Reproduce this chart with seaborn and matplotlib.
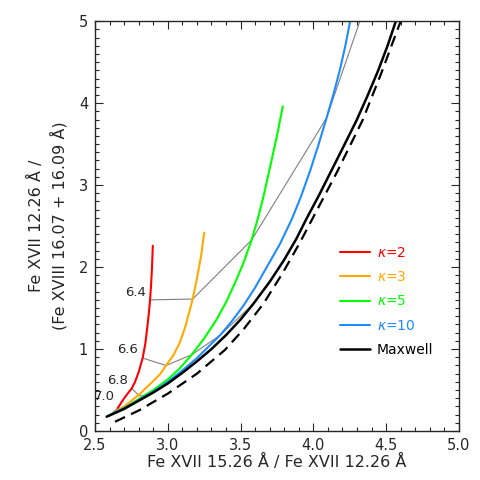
import matplotlib
matplotlib.use("Agg")
import matplotlib.pyplot as plt
import numpy as np
import pandas as pd
import seaborn as sns

# ratio curves (x = 15.26/12.26, y = 12.26/(16.07+16.09))
kappa2_x = [2.656, 2.70, 2.73, 2.752, 2.775, 2.80, 2.827, 2.845, 2.86, 2.870, 2.878, 2.885, 2.891, 2.897]
kappa2_y = [0.28, 0.40, 0.47, 0.52, 0.60, 0.72, 0.89, 1.06, 1.28, 1.44, 1.60, 1.78, 1.98, 2.26]

kappa3_x = [2.60, 2.70, 2.80, 2.90, 2.95, 2.988, 3.04, 3.08, 3.12, 3.171, 3.20, 3.23, 3.25]
kappa3_y = [0.19, 0.30, 0.44, 0.61, 0.70, 0.80, 0.93, 1.07, 1.27, 1.61, 1.86, 2.15, 2.42]

kappa5_x = [2.585, 2.70, 2.80, 2.90, 3.00, 3.08, 3.164, 3.25, 3.335, 3.40, 3.46, 3.52,
            3.576, 3.62, 3.66, 3.70, 3.75, 3.79]
kappa5_y = [0.18, 0.28, 0.39, 0.50, 0.63, 0.76, 0.93, 1.13, 1.36, 1.57, 1.80, 2.05,
            2.33, 2.60, 2.88, 3.20, 3.60, 3.96]

kappa10_x = [2.583, 2.70, 2.80, 2.90, 3.00, 3.10, 3.20, 3.28, 3.36, 3.44, 3.52, 3.60, 3.68,
             3.77, 3.851, 3.915, 3.977, 4.035, 4.091, 4.14, 4.183, 4.22, 4.253]
kappa10_y = [0.178, 0.28, 0.38, 0.48, 0.60, 0.74, 0.89, 1.03, 1.17, 1.34, 1.53, 1.75, 2.00,
             2.28, 2.58, 2.86, 3.17, 3.49, 3.82, 4.12, 4.41, 4.70, 5.00]

maxwell_x = [2.58, 2.70, 2.80, 2.90, 3.00, 3.10, 3.20, 3.30, 3.40, 3.50, 3.587, 3.70, 3.80,
             3.885, 3.95, 4.04, 4.125, 4.21, 4.297, 4.37, 4.446, 4.51, 4.567]
maxwell_y = [0.175, 0.27, 0.37, 0.47, 0.58, 0.71, 0.85, 1.00, 1.17, 1.36, 1.55, 1.82, 2.09,
             2.35, 2.58, 2.88, 3.18, 3.48, 3.79, 4.08, 4.40, 4.70, 5.00]

# dashed comparison curve (no legend entry)
dashed_x = [2.637, 2.80, 3.003, 3.20, 3.393, 3.52, 3.656, 3.79, 3.908, 3.988, 4.16, 4.338, 4.47, 4.60]
dashed_y = [0.113, 0.25, 0.46, 0.70, 0.99, 1.24, 1.55, 1.93, 2.30, 2.57, 3.15, 3.79, 4.38, 5.00]

# log T points joining the curves (kappa=2, 3, 5, 10, Maxwell)
temps = ["6.4", "6.6", "6.8", "7.0"]
temp_x = [[2.878, 3.171, 3.576, 4.091, 4.70],
          [2.827, 2.988, 3.164, 3.36, 3.587],
          [2.752, 2.804, 2.84, 2.86, 2.88],
          [2.656, 2.60, 2.585, 2.583, 2.58]]
temp_y = [[1.60, 1.61, 2.33, 3.82, 6.96],
          [0.89, 0.80, 0.93, 1.17, 1.55],
          [0.52, 0.43, 0.43, 0.44, 0.46],
          [0.28, 0.19, 0.18, 0.178, 0.175]]

labels = [r"$\kappa$=2", r"$\kappa$=3", r"$\kappa$=5", r"$\kappa$=10", "Maxwell"]
colors = ["#ff0000", "#ffaa00", "#00ff00", "#1e8cff", "black"]

sns.set_style("ticks")
plt.rcParams['font.family'] = ['DejaVu Sans']
plt.rcParams['font.size'] = 10.5

fig = plt.figure(figsize=(4.8, 4.8), dpi=100)
ax = fig.add_axes([0.198, 0.102, 0.758, 0.854])

# temperature grid lines first, so curves sit on top
label_offsets = [(-3, 5), (-3, 6), (-3, 6), (-2, 8)]
for t, tx, ty, off in zip(temps, temp_x, temp_y, label_offsets):
    sns.lineplot(x=tx, y=ty, ax=ax, sort=False, estimator=None,
                 color="#7f7f7f", linewidth=0.8)
    ax.annotate(t, (tx[0], ty[0]), xytext=off, textcoords="offset points",
                ha="right", va="center", fontsize=9.5)

curves = [(kappa2_x, kappa2_y), (kappa3_x, kappa3_y), (kappa5_x, kappa5_y),
          (kappa10_x, kappa10_y), (maxwell_x, maxwell_y)]
handles = []
for (cx, cy), lab, col in zip(curves, labels, colors):
    lw = 1.8 if col == "black" else 1.5
    sns.lineplot(x=cx, y=cy, ax=ax, sort=False, estimator=None,
                 color=col, linewidth=lw)
    handles.append(ax.lines[-1])

sns.lineplot(x=dashed_x, y=dashed_y, ax=ax, sort=False, estimator=None,
             color="black", linewidth=1.6, linestyle=(0, (5, 3)))

leg = ax.legend(handles, labels, loc="upper left", bbox_to_anchor=(0.64, 0.483),
                frameon=False, handlelength=2.15, handletextpad=0.45,
                labelspacing=0.75, fontsize=10)
for txt, col in zip(leg.get_texts(), colors):
    txt.set_color(col)

ax.set_xlim(2.5, 5.0)
ax.set_ylim(0, 5)
ax.set_xticks([2.5, 3.0, 3.5, 4.0, 4.5, 5.0])
ax.set_xticklabels(["2.5", "3.0", "3.5", "4.0", "4.5", "5.0"])
ax.set_yticks([0, 1, 2, 3, 4, 5])
ax.set_xticks(np.arange(2.5, 5.0, 0.1), minor=True)
ax.set_yticks(np.arange(0, 5.0, 0.1), minor=True)
ax.tick_params(which="both", direction="in", top=True, right=True, width=0.8)
ax.tick_params(which="major", length=6, pad=5)
ax.tick_params(which="minor", length=3)
for s in ax.spines.values():
    s.set_linewidth(1.0)

ax.set_xlabel("Fe XVII 15.26 Å / Fe XVII 12.26 Å", labelpad=1, fontsize=11.5)
ax.set_ylabel("Fe XVII 12.26 Å /\n(Fe XVIII 16.07 + 16.09 Å)", labelpad=8,
              linespacing=1.4, fontsize=11.5)

fig.savefig("out.png", dpi=100)
